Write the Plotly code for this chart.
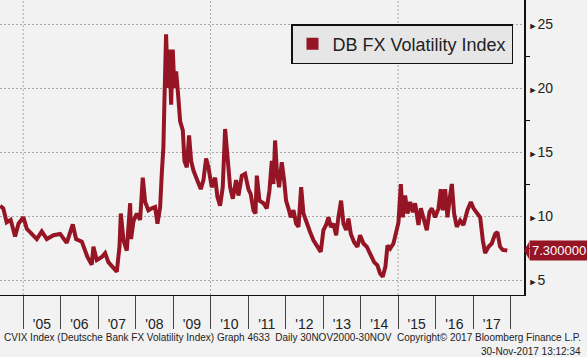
import plotly.graph_objects as go

# ---------------- data ----------------
dates = [
    "2004-05-21", "2004-06-21", "2004-07-24", "2004-09-01", "2004-10-14", "2004-11-16",
    "2005-01-03", "2005-02-05", "2005-03-25", "2005-05-13", "2005-07-01", "2005-08-19",
    "2005-10-23", "2005-12-27", "2006-03-01", "2006-04-29", "2006-05-31", "2006-07-26",
    "2006-09-19", "2006-10-31", "2006-11-16", "2006-12-19", "2007-02-06", "2007-03-10",
    "2007-04-11", "2007-05-30", "2007-07-02", "2007-07-28", "2007-08-10", "2007-09-05",
    "2007-10-07", "2007-11-09", "2007-11-18", "2007-12-11", "2008-01-13", "2008-02-14",
    "2008-03-11", "2008-04-03", "2008-05-05", "2008-06-07", "2008-07-09", "2008-08-01",
    "2008-08-27", "2008-09-12", "2008-09-28", "2008-10-08", "2008-10-24", "2008-11-10",
    "2008-11-26", "2008-12-12", "2008-12-28", "2009-01-13", "2009-01-30", "2009-02-21",
    "2009-03-10", "2009-04-05", "2009-04-21", "2009-05-14", "2009-06-05", "2009-06-25",
    "2009-07-18", "2009-08-19", "2009-09-27", "2009-10-23", "2009-11-18", "2009-12-11",
    "2010-01-12", "2010-02-14", "2010-03-08", "2010-04-03", "2010-04-29", "2010-05-22",
    "2010-06-14", "2010-07-10", "2010-08-05", "2010-09-06", "2010-09-29", "2010-11-01",
    "2010-12-03", "2011-01-04", "2011-01-27", "2011-02-22", "2011-03-14", "2011-03-27",
    "2011-04-22", "2011-05-31", "2011-07-02", "2011-07-28", "2011-08-20", "2011-09-05",
    "2011-09-21", "2011-10-08", "2011-10-30", "2011-11-25", "2011-12-18", "2012-01-06",
    "2012-01-29", "2012-02-21", "2012-03-18", "2012-04-13", "2012-05-06", "2012-06-01",
    "2012-06-23", "2012-07-26", "2012-08-27", "2012-09-29", "2012-10-31", "2012-12-09",
    "2013-01-04", "2013-01-30", "2013-02-22", "2013-03-17", "2013-04-12", "2013-05-08",
    "2013-05-30", "2013-06-25", "2013-07-18", "2013-08-13", "2013-09-05", "2013-09-28",
    "2013-10-30", "2013-12-01", "2013-12-27", "2014-01-29", "2014-03-02", "2014-04-04",
    "2014-05-13", "2014-06-14", "2014-07-10", "2014-08-05", "2014-08-31", "2014-09-20",
    "2014-10-16", "2014-11-17", "2014-12-13", "2015-01-05", "2015-01-28", "2015-02-16",
    "2015-03-11", "2015-04-03", "2015-04-29", "2015-05-25", "2015-06-16", "2015-07-19",
    "2015-08-11", "2015-09-05", "2015-10-08", "2015-11-03", "2015-11-26", "2015-12-28",
    "2016-01-30", "2016-02-21", "2016-03-12", "2016-04-04", "2016-04-26", "2016-05-22",
    "2016-06-08", "2016-06-30", "2016-07-26", "2016-08-28", "2016-09-29", "2016-11-07",
    "2016-12-10", "2017-01-05", "2017-02-13", "2017-03-11", "2017-04-06", "2017-04-28",
    "2017-05-31", "2017-07-02", "2017-08-04", "2017-08-26", "2017-09-21", "2017-10-17",
    "2017-11-30",
]
values = [
    10.8, 10.6, 9.5, 9.7, 8.4, 9.4,
    9.9, 9.0, 8.6, 8.2, 8.8, 8.2,
    8.5, 8.6, 7.9, 9.35, 8.2, 8.0,
    6.8, 6.2, 7.6, 6.55, 6.8, 7.1,
    6.4, 5.9, 5.65, 7.6, 10.2, 8.1,
    7.3, 11.0, 8.2, 9.6, 10.2, 9.7,
    13.0, 11.1, 10.45, 10.6, 10.7, 9.4,
    10.7, 13.3, 15.4, 19.0, 24.2, 20.0,
    23.0, 18.7, 23.0, 20.0, 21.3, 19.2,
    17.4, 16.7, 14.3, 13.8, 16.3, 14.3,
    13.55, 12.9, 12.1, 12.8, 14.5, 13.8,
    12.25, 13.0, 11.5, 10.8, 12.25, 16.8,
    14.85, 12.25, 11.35, 12.8, 11.6, 13.15,
    13.3, 12.1, 11.7, 10.45, 10.2, 13.15,
    11.2, 11.0, 10.6, 12.0, 14.3, 12.5,
    15.9, 13.55, 12.25, 14.2, 12.8, 11.2,
    10.6, 9.9, 10.45, 9.4, 9.15, 12.25,
    10.2, 9.4, 8.75, 8.1, 7.7, 7.2,
    8.9, 9.3, 9.9, 9.15, 9.4, 8.5,
    9.9, 11.2, 9.4, 8.9, 9.8, 8.6,
    7.95, 7.6, 8.5, 7.85, 7.6, 7.1,
    6.4, 6.15, 5.5, 5.25, 6.05, 7.7,
    7.45, 7.85, 8.9, 9.5, 12.5, 9.9,
    11.6, 10.2, 11.1, 10.3, 11.0, 9.3,
    10.6, 9.9, 8.9, 10.3, 10.6, 9.9,
    10.6, 12.1, 10.45, 12.1, 9.9, 11.6,
    12.5, 10.2, 9.15, 9.65, 9.3, 10.45,
    11.1, 10.6, 10.2, 9.9, 8.1, 7.1,
    7.6, 7.85, 8.6, 8.75, 7.6, 7.35,
    7.3,
]
series_name = "DB FX Volatility Index"
last_value = 7.3

year_ticks = [f"{y}-01-01" for y in range(2005, 2019)]
label_pos = [f"{y}-07-02" for y in range(2005, 2018)]
label_text = ["'05", "'06", "'07", "'08", "'09", "'10", "'11", "'12", "'13", "'14", "'15", "'16", "'17"]
grid_years = ["2005-01-01", "2010-01-01", "2015-01-01"]
y_ticks = [5, 10, 15, 20, 25]
y_minor = [7.5, 12.5, 17.5, 22.5]

footer_left = "CVIX Index (Deutsche Bank FX Volatility Index) Graph 4633  Daily 30NOV2000-30NOV"
footer_right = "Copyright\u00a9 2017 Bloomberg Finance L.P."
footer_time = "30-Nov-2017 13:12:34"

# ---------------- styling ----------------
RED = "#961525"
BG = "#F2F2F2"
GRID = "#A8A8A8"
FONT = "Liberation Sans"
W, H = 587, 357
ML, MR, MT, MB = 0, 63, 0, 62
PW, PH = W - ML - MR, H - MT - MB
Y0, Y1 = 3.83, 26.875

fig = go.Figure()
fig.add_trace(go.Scatter(
    x=dates, y=values, mode="lines",
    line=dict(color=RED, width=4),
    showlegend=False, hoverinfo="skip",
))
fig.add_trace(go.Scatter(
    x=[None], y=[None], mode="markers",
    marker=dict(symbol="square", size=12, color=RED),
    name=series_name,
))

shapes = []
for g in grid_years:
    shapes.append(dict(type="line", xref="x", yref="paper", x0=g, x1=g, y0=0, y1=1,
                       line=dict(color=GRID, width=1, dash="2px,2px"), layer="below"))
# pointer of the last-value tag
tip = 1.0
base = 1.0 + 5.0 / PW
half = 8.5 / (PH / (Y1 - Y0))
shapes.append(dict(type="path", xref="paper", yref="y",
                   path=f"M {tip},{last_value} L {base},{last_value + half} L {base},{last_value - half} Z",
                   fillcolor=RED, line=dict(width=0)))

foot_font = dict(family=FONT, size=10, color="#222")
annotations = [
    dict(xref="paper", yref="y", x=1.0, y=last_value, xanchor="left", yanchor="middle",
         xshift=5, text=f"{last_value:.6f}", showarrow=False, bgcolor=RED,
         font=dict(family=FONT, size=13, color="white"), borderpad=2),
    dict(xref="paper", yref="paper", x=2 / PW, y=(PH - 337 + MT) / PH, xanchor="left", yanchor="middle",
         text=footer_left, showarrow=False, font=foot_font),
    dict(xref="paper", yref="paper", x=583 / PW, y=(PH - 337 + MT) / PH, xanchor="right", yanchor="middle",
         text=footer_right, showarrow=False, font=foot_font),
    dict(xref="paper", yref="paper", x=583 / PW, y=(PH - 351 + MT) / PH, xanchor="right", yanchor="middle",
         text=footer_time, showarrow=False, font=foot_font),
]

fig.update_layout(
    width=W, height=H,
    margin=dict(l=ML, r=MR, t=MT, b=MB),
    paper_bgcolor=BG, plot_bgcolor=BG,
    font=dict(family=FONT, color="#222"),
    shapes=shapes, annotations=annotations,
    legend=dict(x=291 / PW, y=1 - 24 / PH, xanchor="left", yanchor="top",
                bgcolor="#E6E6E6", bordercolor="#111", borderwidth=1.5,
                font=dict(family=FONT, size=18, color="#222")),
    xaxis=dict(
        type="date", range=["2004-05-20", "2018-05-12"],
        tickmode="array", tickvals=label_pos, ticktext=label_text,
        ticks="", showgrid=False, zeroline=False,
        showline=True, linecolor="#111", linewidth=1,
        tickfont=dict(family=FONT, size=14, color="#222"),
        ticklabelstandoff=16,
        minor=dict(tickmode="array", tickvals=year_ticks, ticks="outside",
                   ticklen=33, tickwidth=1, tickcolor="#444", showgrid=False),
    ),
    yaxis=dict(
        side="right", range=[Y0, Y1],
        tickmode="array", tickvals=y_ticks,
        ticktext=[f"<span style='font-size:9px'>\u25BA</span>{v}" for v in y_ticks],
        ticks="", showgrid=True, gridcolor=GRID, gridwidth=1, griddash="2px,2px",
        zeroline=False, showline=True, linecolor="#111", linewidth=1.5,
        tickfont=dict(family=FONT, size=14, color="#222"),
        minor=dict(tickmode="array", tickvals=y_minor, ticks="outside", ticklen=4,
                   tickwidth=1, tickcolor="#111", showgrid=False),
    ),
)

fig.write_html("out.html", config={"displayModeBar": False},
               post_script="document.body.style.margin='0';")
